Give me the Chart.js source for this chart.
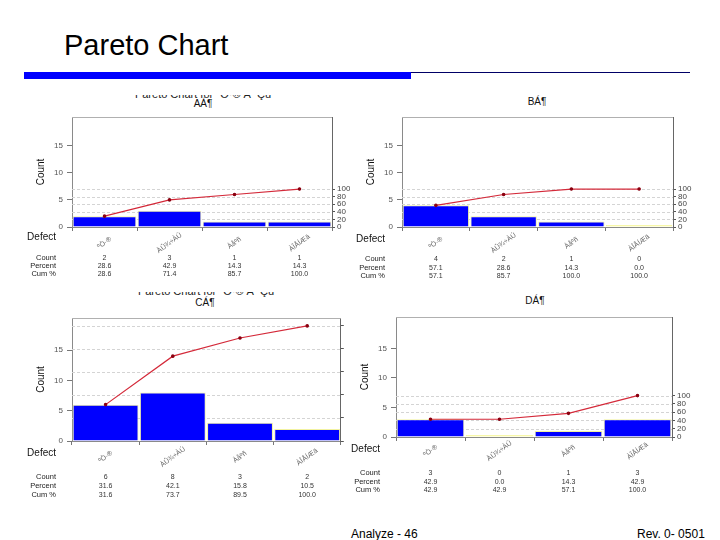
<!DOCTYPE html>
<html>
<head>
<meta charset="utf-8">
<script src="https://cdn.jsdelivr.net/npm/chart.js@4"></script>
<style>
  body { margin: 0; width: 720px; height: 540px; background: #fff; position: relative; overflow: hidden;
         font-family: "Liberation Sans", Arial, sans-serif; }
  .abs { position: absolute; }
  .ptitle { font-size: 10px; color: #111; width: 60px; text-align: center; }
  .clip { overflow: hidden; height: 5px; width: 160px; }
  .clip span { position: absolute; top: -7px; left: 0; width: 160px; text-align: center; font-size: 11px; color: #222; white-space: nowrap; }
  canvas { position: absolute; }
</style>
</head>
<body>
<div class="abs" style="left:64px;top:29px;font-size:29px;color:#000;">Pareto Chart</div>
<div class="abs" style="left:24px;top:72px;width:387px;height:7px;background:#0000ff;"></div>
<div class="abs" style="left:411px;top:72px;width:279px;height:1px;background:#000066;"></div>

<div class="abs clip" style="left:123px;top:95px;"><span>Pareto Chart for ºÒ·® À¯Çü</span></div>
<div class="abs clip" style="left:126px;top:292px;"><span>Pareto Chart for ºÒ·® À¯Çü</span></div>
<div class="abs ptitle" style="left:173px;top:98px;">AÁ¶</div>
<div class="abs ptitle" style="left:507px;top:96px;">BÁ¶</div>
<div class="abs ptitle" style="left:175px;top:297px;">CÁ¶</div>
<div class="abs ptitle" style="left:505px;top:295px;">DÁ¶</div>

<canvas id="chartA" width="330" height="185" style="left:20px;top:98px;"></canvas>
<canvas id="chartB" width="370" height="185" style="left:350px;top:98px;"></canvas>
<canvas id="chartC" width="326" height="205" style="left:20px;top:298px;"></canvas>
<canvas id="chartD" width="375" height="205" style="left:345px;top:298px;"></canvas>

<div class="abs" style="left:351px;top:527px;font-size:12px;color:#000;">Analyze - 46</div>
<div class="abs" style="left:637px;top:527px;font-size:12px;color:#000;">Rev. 0- 0501</div>

<script>
// Data
const categories = ['ºÒ·®', 'ÀÛ¾÷ÀÚ', 'Àåºñ', 'ÀÎÅÍÆä'];

const countsA = [2, 3, 1, 1];
const percentA = [28.6, 42.9, 14.3, 14.3];
const cumA = [28.6, 71.4, 85.7, 100.0];

const countsB = [4, 2, 1, 0];
const percentB = [57.1, 28.6, 14.3, 0.0];
const cumB = [57.1, 85.7, 100.0, 100.0];

const countsC = [6, 8, 3, 2];
const percentC = [31.6, 42.1, 15.8, 10.5];
const cumC = [31.6, 73.7, 89.5, 100.0];

const countsD = [3, 0, 1, 3];
const percentD = [42.9, 0.0, 14.3, 42.9];
const cumD = [42.9, 42.9, 57.1, 100.0];

const countTicks = [0, 5, 10, 15];
const percentTicks = [0, 20, 40, 60, 80, 100];

const FONT = '"Liberation Sans", Arial, sans-serif';
Chart.defaults.font.family = FONT;
Chart.defaults.animation = false;

// --- extra drawing: dashed % grid, frame top, Count title, Defect table ---
const paretoExtras = {
  id: 'paretoExtras',
  beforeDatasetsDraw(chart, args, opts) {
    const { ctx, chartArea: a } = chart;
    const y1 = chart.scales.y1;
    ctx.save();
    ctx.strokeStyle = '#d4d4d4';
    ctx.lineWidth = 1;
    ctx.setLineDash([3, 2]);
    percentTicks.slice(1).forEach(v => {
      const y = Math.round(y1.getPixelForValue(v)) + 0.5;
      ctx.beginPath(); ctx.moveTo(a.left, y); ctx.lineTo(a.right, y); ctx.stroke();
    });
    ctx.restore();
  },
  afterDraw(chart, args, opts) {
    const { ctx, chartArea: a } = chart;
    const x = chart.scales.x;
    ctx.save();

    // frame top
    ctx.strokeStyle = '#b0b0b0';
    ctx.lineWidth = 1;
    ctx.beginPath(); ctx.moveTo(a.left, a.top + 0.5); ctx.lineTo(a.right, a.top + 0.5); ctx.stroke();

    // Count title
    ctx.save();
    ctx.translate(a.left - 31, (a.top + a.bottom) / 2);
    ctx.rotate(-Math.PI / 2);
    ctx.fillStyle = '#111';
    ctx.font = '10px ' + FONT;
    ctx.textAlign = 'center';
    ctx.textBaseline = 'middle';
    ctx.fillText('Count', 0, 0);
    ctx.restore();

    const r = opts.rows;
    ctx.textBaseline = 'middle';

    // Defect
    ctx.fillStyle = '#111';
    ctx.font = '10px ' + FONT;
    ctx.textAlign = 'right';
    ctx.fillText('Defect', opts.labelX, a.bottom + r[0]);

    // rotated category labels
    ctx.font = '7px ' + FONT;
    ctx.fillStyle = '#666';
    categories.forEach((c, i) => {
      ctx.save();
      ctx.translate(x.getPixelForValue(i), a.bottom + r[1]);
      ctx.rotate(-Math.PI / 5);
      ctx.textAlign = 'center';
      ctx.fillText(c, 0, 0);
      ctx.restore();
    });

    // table
    const rows = [
      ['Count', opts.counts.map(v => String(v))],
      ['Percent', opts.percent.map(v => v.toFixed(1))],
      ['Cum %', opts.cum.map(v => v.toFixed(1))]
    ];
    rows.forEach((row, k) => {
      const y = a.bottom + r[2 + k];
      ctx.font = '7.5px ' + FONT;
      ctx.fillStyle = '#222';
      ctx.textAlign = 'right';
      ctx.fillText(row[0], opts.labelX, y);
      ctx.font = '7px ' + FONT;
      ctx.fillStyle = '#333';
      ctx.textAlign = 'center';
      row[1].forEach((t, i) => ctx.fillText(t, x.getPixelForValue(i), y));
    });

    ctx.restore();
  }
};

function paretoChart(id, counts, percent, cum, box) {
  const total = counts.reduce((s, v) => s + v, 0);
  const yMax = 20.3;
  return new Chart(document.getElementById(id), {
    data: {
      labels: categories,
      datasets: [
        {
          type: 'line',
          data: cum,
          yAxisID: 'y1',
          borderColor: '#d42a3a',
          borderWidth: 1.2,
          pointRadius: 1.2,
          pointBackgroundColor: '#8a0010',
          pointBorderColor: '#8a0010',
          tension: 0,
          order: 0
        },
        {
          type: 'bar',
          data: counts,
          yAxisID: 'y',
          backgroundColor: counts.map(v => v ? '#0000ff' : '#ffff80'),
          borderColor: '#f2f2a0',
          borderWidth: 1,
          minBarLength: 2,
          barPercentage: 1,
          categoryPercentage: 0.98,
          order: 1
        }
      ]
    },
    options: {
      responsive: false,
      layout: { padding: { top: box.top, left: 0, right: 0, bottom: 0 } },
      plugins: {
        legend: { display: false },
        tooltip: { enabled: false },
        paretoExtras: { rows: box.rows, labelX: box.labelX, counts, percent, cum }
      },
      scales: {
        x: {
          type: 'category',
          offset: true,
          ticks: { display: false },
          grid: { drawOnChartArea: false, tickLength: 4, color: '#777' },
          border: { color: '#8a8a8a' },
          afterFit: s => { s.height = box.bottomH; }
        },
        y: {
          position: 'left',
          min: 0,
          max: yMax,
          afterBuildTicks: s => { s.ticks = countTicks.map(v => ({ value: v })); },
          ticks: { color: '#555', font: { size: 8 }, padding: 4 },
          grid: { drawOnChartArea: false, tickLength: 5, color: '#777' },
          border: { color: '#8a8a8a' },
          afterFit: s => { s.width = box.leftW; }
        },
        y1: {
          position: 'right',
          min: 0,
          max: yMax / total * 100,
          afterBuildTicks: s => { s.ticks = percentTicks.map(v => ({ value: v })); },
          ticks: { color: '#444', font: { size: 8 }, padding: 2 },
          grid: { drawOnChartArea: false, tickLength: 3, color: '#555' },
          border: { color: '#666' },
          afterFit: s => { s.width = box.rightW; }
        }
      }
    },
    plugins: [paretoExtras]
  });
}

paretoChart('chartA', countsA, percentA, cumA,
  { top: 19, leftW: 52, rightW: 18, bottomH: 56, labelX: 36, rows: [10, 16, 31, 39, 47] });
paretoChart('chartB', countsB, percentB, cumB,
  { top: 19, leftW: 52, rightW: 47, bottomH: 56, labelX: 35, rows: [12, 16, 32, 41, 49] });
paretoChart('chartC', countsC, percentC, cumC,
  { top: 20, leftW: 52, rightW: 5, bottomH: 62, labelX: 36, rows: [12, 16, 36, 45, 54] });
paretoChart('chartD', countsD, percentD, cumD,
  { top: 19, leftW: 51, rightW: 48, bottomH: 66, labelX: 35, rows: [12, 14, 36, 45, 53] });
</script>
</body>
</html>
